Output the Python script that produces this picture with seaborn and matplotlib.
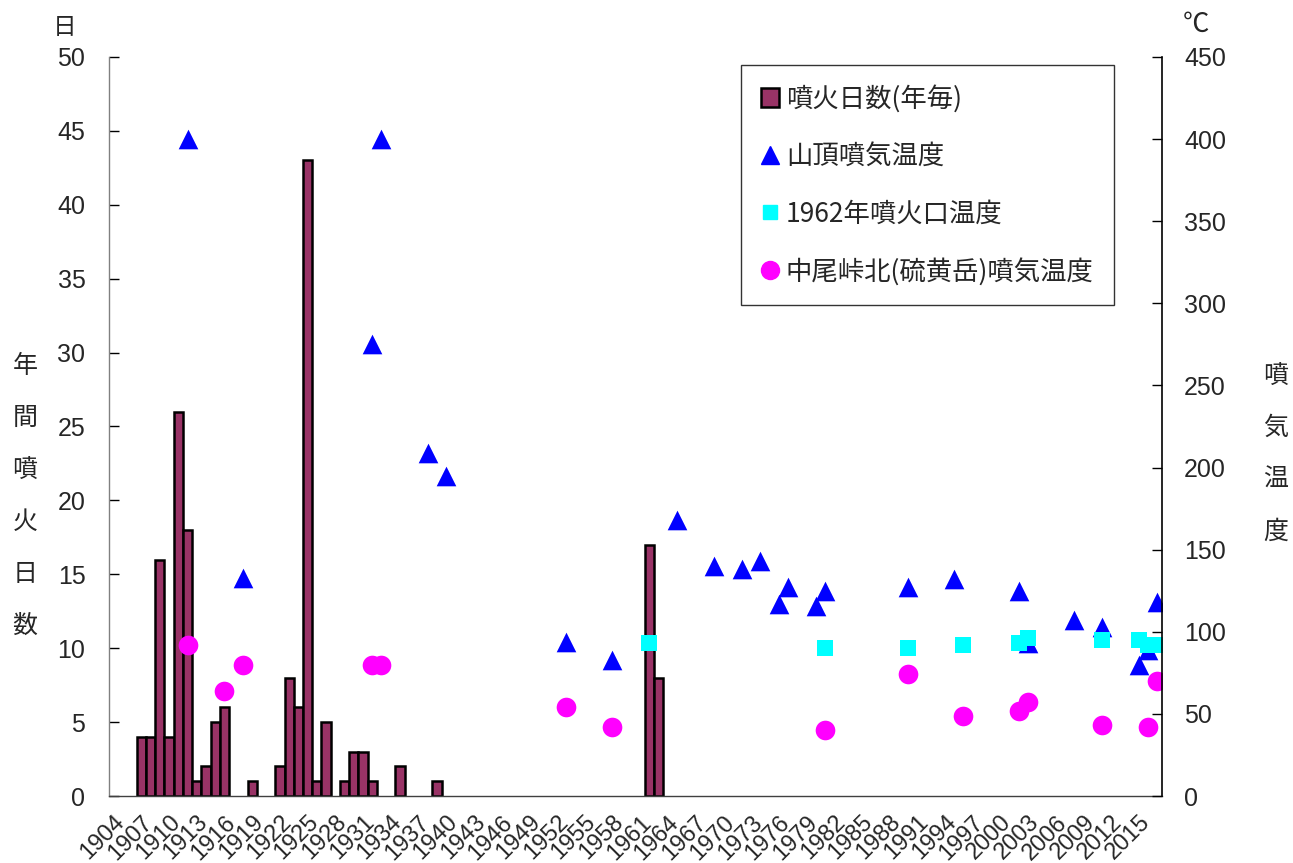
import matplotlib
matplotlib.use('Agg')
import matplotlib.pyplot as plt
import seaborn as sns
from matplotlib.lines import Line2D
from matplotlib.patches import Patch

# 噴火日数(年毎) - left axis
eruption_years = [1907, 1908, 1909, 1910, 1911, 1912, 1913, 1914, 1915, 1916,
                  1919, 1922, 1923, 1924, 1925, 1926, 1927, 1929, 1930, 1931,
                  1932, 1935, 1939, 1962, 1963]
eruption_days = [4, 4, 16, 4, 26, 18, 1, 2, 5, 6,
                 1, 2, 8, 6, 43, 1, 5, 1, 3, 3,
                 1, 2, 1, 17, 8]

# 山頂噴気温度 - right axis
summit_years = [1912, 1918, 1932, 1933, 1938, 1940, 1953, 1958, 1965, 1969,
                1972, 1974, 1976, 1977, 1980, 1981, 1990, 1995, 2002, 2003,
                2008, 2011, 2015, 2016, 2017]
summit_temp = [400, 133, 275, 400, 209, 195, 94, 83, 168, 140,
               138, 143, 117, 127, 116, 125, 127, 132, 125, 93,
               107, 103, 80, 89, 118]

# 1962年噴火口温度
crater_years = [1962, 1981, 1990, 1996, 2002, 2003, 2011, 2015, 2016, 2017]
crater_temp = [93, 90, 90, 92, 93, 96, 95, 95, 92, 92]

# 中尾峠北(硫黄岳)噴気温度
nakao_years = [1912, 1916, 1918, 1932, 1933, 1953, 1958, 1981, 1990, 1996,
               2002, 2003, 2011, 2016, 2017]
nakao_temp = [92, 64, 80, 80, 80, 54, 42, 40, 74, 49,
              52, 57, 43, 42, 70]

label_years = list(range(1904, 2016, 3))
first_year, last_year = 1904, 2017

sns.set_style('white')
plt.rcParams['font.family'] = ['Liberation Sans', 'Noto Sans CJK JP', 'DejaVu Sans']
jp = ['Noto Sans CJK JP', 'DejaVu Sans']

bar_color = '#993366'

fig = plt.figure(figsize=(12.93, 8.63), dpi=100)
ax = fig.add_axes([0.0843, 0.0776, 0.8144, 0.8564])

sns.barplot(x=eruption_years, y=eruption_days, native_scale=True, width=1,
            color=bar_color, edgecolor='black', linewidth=1.8, saturation=1,
            errorbar=None, ax=ax)

ax2 = ax.twinx()
sns.scatterplot(x=summit_years, y=summit_temp, marker='^', s=200,
                color='#0000FF', linewidth=0, ax=ax2)
sns.scatterplot(x=crater_years, y=crater_temp, marker='s', s=120,
                color='#00FFFF', linewidth=0, ax=ax2)
sns.scatterplot(x=nakao_years, y=nakao_temp, marker='o', s=200,
                color='#FF00FF', linewidth=0, ax=ax2)

ax.set_xlim(first_year - 0.5, last_year + 0.5)
ax.set_ylim(0, 50)
ax2.set_ylim(0, 450)
ax.set_yticks(range(0, 51, 5))
ax2.set_yticks(range(0, 451, 50))

ax.set_xticks(label_years)
ax.set_xticklabels([str(y) for y in label_years], rotation=45, ha='right',
                   rotation_mode='anchor', fontsize=17)
ax.set_xticks([y + 0.5 for y in range(first_year, last_year)], minor=True)
ax.tick_params(axis='x', which='major', length=0, pad=11)
ax.tick_params(axis='x', which='minor', direction='in', length=6, width=1, color='#555555')
ax.tick_params(axis='y', direction='in', length=7, width=1, labelsize=18, pad=17, color='black')
ax2.tick_params(axis='y', direction='in', length=7, width=1, labelsize=18, pad=16, color='black')
ax.set_xlabel('')
ax.set_ylabel('')
ax2.set_ylabel('')

for a in (ax, ax2):
    a.spines['top'].set_visible(False)
    a.grid(False)
ax.spines['left'].set_color('#808080')
ax.spines['bottom'].set_color('#404040')
ax2.spines['left'].set_visible(False)
ax2.spines['bottom'].set_visible(False)
ax2.spines['right'].set_color('black')
ax.spines['right'].set_visible(False)
for s in ax.spines.values():
    s.set_linewidth(1)
ax2.spines['right'].set_linewidth(1.2)

# axis titles (vertical Japanese text)
fig.text(65 / 1293, 1 - 27 / 863, '日', family=jp, fontsize=17, ha='center', va='center')
fig.text(1196 / 1293, 1 - 24 / 863, '℃', family=jp, fontsize=19, ha='center', va='center')
fig.text(25 / 1293, 1 - 496 / 863, '\n'.join('年間噴火日数'), family=jp, fontsize=18,
         ha='center', va='center', linespacing=2.3)
fig.text(1276 / 1293, 1 - 454 / 863, '\n'.join('噴気温度'), family=jp, fontsize=18,
         ha='center', va='center', linespacing=2.3)

handles = [
    Patch(facecolor=bar_color, edgecolor='black', linewidth=1.8),
    Line2D([], [], marker='^', color='#0000FF', linestyle='none', markersize=13),
    Line2D([], [], marker='s', color='#00FFFF', linestyle='none', markersize=10),
    Line2D([], [], marker='o', color='#FF00FF', linestyle='none', markersize=13),
]
labels = ['噴火日数(年毎)', '山頂噴気温度', '1962年噴火口温度', '中尾峠北(硫黄岳)噴気温度']
leg = ax2.legend(handles, labels, loc='upper left',
                 bbox_to_anchor=(741 / 1293, 1 - 65 / 863), bbox_transform=fig.transFigure,
                 prop={'family': jp, 'size': 19}, frameon=True, fancybox=False,
                 labelspacing=1.15, handlelength=0.7, handleheight=0.7, handletextpad=0.25,
                 borderpad=0.75, borderaxespad=0)
leg.get_frame().set_edgecolor('black')
leg.get_frame().set_linewidth(1)

fig.savefig('out.png', dpi=100)
